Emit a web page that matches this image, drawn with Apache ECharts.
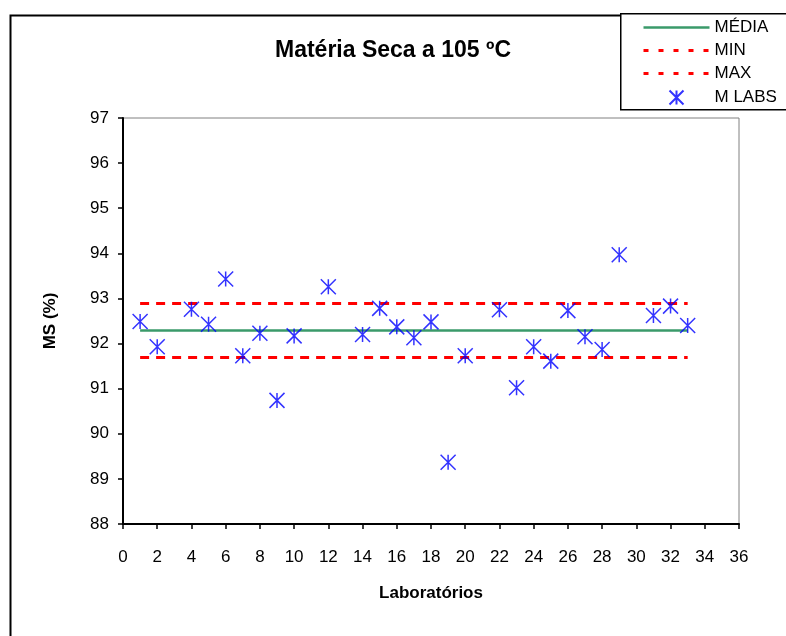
<!DOCTYPE html>
<html>
<head>
<meta charset="utf-8">
<script src="https://cdn.jsdelivr.net/npm/echarts@6/dist/echarts.min.js"></script>
<style>
  html, body { margin: 0; padding: 0; background: #fff; }
  #chart { width: 786px; height: 636px; }
</style>
</head>
<body>
<div id="chart"></div>
<script>
// laboratórios que reportaram (3, 11, 13, 21 e 30 em falta)
const labs = [1, 2, 4, 5, 6, 7, 8, 9, 10, 12, 14, 15, 16, 17, 18, 19, 20, 22, 23, 24, 25, 26, 27, 28, 29, 31, 32, 33];
const msValues = [92.49, 91.93, 92.76, 92.43, 93.43, 91.73, 92.23, 90.74, 92.17, 93.26, 92.20, 92.78, 92.37, 92.13, 92.48, 89.37, 91.73, 92.75, 91.02, 91.93, 91.61, 92.73, 92.15, 91.87, 93.97, 92.62, 92.83, 92.40];
// limites de referência
const labRange = [1, 33];
const media = 92.29;
const minLimit = 91.69;
const maxLimit = 92.89;
// eixos
const yTicks = [88, 97, 1];
const xTicks = [0, 36, 2];

const font = "Arial, 'Liberation Sans', sans-serif";
const chart = echarts.init(document.getElementById("chart"));

const hLine = (v) => labRange.map((x) => [x, v]);
// asterisco (X + traço vertical)
const starPath = "path://M0,0 L16,16 M16,0 L0,16 M8,0 L8,16";
// na legenda das linhas só aparece o traço
const lineOnly = { color: "rgba(0,0,0,0)", borderWidth: 0, opacity: 0 };

const option = {
  backgroundColor: "#fff",
  animation: false,
  textStyle: { fontFamily: font },
  title: {
    text: "Matéria Seca a 105 ºC",
    left: "center",
    top: 34,
    textStyle: { fontSize: 23, fontWeight: "bold", color: "#000", fontFamily: font }
  },
  legend: {
    orient: "vertical",
    left: 642,
    top: 19,
    padding: 0,
    itemWidth: 66,
    itemHeight: 14,
    itemGap: 6,
    textStyle: { fontSize: 17, lineHeight: 17, color: "#000", fontFamily: font },
    data: [
      { name: "MÉDIA", itemStyle: lineOnly, lineStyle: { width: 2.5 } },
      { name: "MIN", itemStyle: lineOnly, lineStyle: { width: 3, type: [5, 10] } },
      { name: "MAX", itemStyle: lineOnly, lineStyle: { width: 3, type: [5, 10] } },
      { name: "M LABS" }
    ]
  },
  grid: {
    left: 123,
    top: 118,
    right: 47,
    bottom: 112,
    show: true,
    borderColor: "#808080",
    borderWidth: 1
  },
  xAxis: {
    type: "value",
    min: xTicks[0],
    max: xTicks[1],
    interval: xTicks[2],
    name: "Laboratórios",
    nameLocation: "middle",
    nameGap: 61,
    nameTextStyle: { fontSize: 17, fontWeight: "bold", color: "#000", fontFamily: font },
    axisLine: { lineStyle: { color: "#000", width: 2 } },
    axisTick: { inside: false, length: 5, lineStyle: { color: "#000", width: 1.5 } },
    axisLabel: { fontSize: 17, color: "#000", margin: 25, fontFamily: font },
    splitLine: { show: false }
  },
  yAxis: {
    type: "value",
    min: yTicks[0],
    max: yTicks[1],
    interval: yTicks[2],
    name: "MS (%)",
    nameLocation: "middle",
    nameGap: 64,
    nameRotate: 90,
    nameTextStyle: { fontSize: 17, fontWeight: "bold", color: "#000", fontFamily: font },
    axisLine: { show: true, lineStyle: { color: "#000", width: 2 } },
    axisTick: { show: true, inside: false, length: 5, lineStyle: { color: "#000", width: 1.5 } },
    axisLabel: { fontSize: 17, color: "#000", margin: 14, fontFamily: font },
    splitLine: { show: false }
  },
  series: [
    {
      name: "MÉDIA",
      type: "line",
      data: hLine(media),
      symbol: "none",
      lineStyle: { color: "#3a9a6a", width: 2.5 },
      itemStyle: { color: "#3a9a6a" },
      z: 2
    },
    {
      name: "MIN",
      type: "line",
      data: hLine(minLimit),
      symbol: "none",
      lineStyle: { color: "#ff0000", width: 3, type: [9, 7] },
      itemStyle: { color: "#ff0000" },
      z: 2
    },
    {
      name: "MAX",
      type: "line",
      data: hLine(maxLimit),
      symbol: "none",
      lineStyle: { color: "#ff0000", width: 3, type: [9, 7] },
      itemStyle: { color: "#ff0000" },
      z: 2
    },
    {
      name: "M LABS",
      type: "scatter",
      data: labs.map((x, i) => [x, msValues[i]]),
      symbol: starPath,
      symbolSize: 15,
      symbolKeepAspect: true,
      itemStyle: { color: "none", borderColor: "#0000ff", borderWidth: 1.5 },
      z: 3
    }
  ],
  graphic: [
    {
      type: "rect",
      left: 8,
      top: 13,
      shape: { width: 800, height: 700 },
      style: { fill: null, stroke: "#000", lineWidth: 2 },
      silent: true,
      z: -1
    },
    {
      type: "rect",
      left: 620,
      top: 13,
      shape: { width: 200, height: 96 },
      style: { fill: "#fff", stroke: "#000", lineWidth: 1.5 },
      silent: true,
      z: -1
    }
  ]
};

chart.setOption(option);
</script>
</body>
</html>
